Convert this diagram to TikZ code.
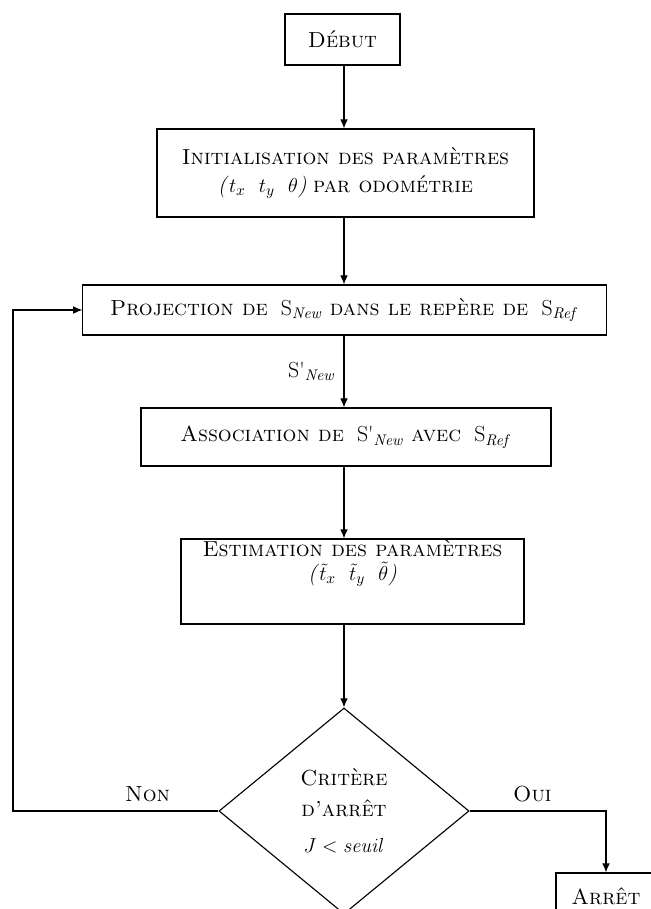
\documentclass[tikz,border=0pt]{standalone}
\usepackage{amsmath, amssymb}
\usepackage{tikz}
\usetikzlibrary{arrows.meta}
\usetikzlibrary{shapes.geometric}
\usetikzlibrary{calc}

\begin{document}
\begin{tikzpicture}[x=0.025cm, y=-0.025cm,
    box/.style={draw, line width=0.8pt, align=center, inner sep=0pt,
        font=\fontsize{15.5}{18}\selectfont},
    decision/.style={draw, diamond, line width=0.8pt, align=center, inner sep=0pt,
        minimum width=6.25cm, minimum height=5.15cm, font=\fontsize{15.5}{18}\selectfont},
    arr/.style={-{Latex[length=6.5pt, width=5.5pt]}, line width=0.8pt},
    lab/.style={font=\fontsize{15.5}{18}\selectfont}]
    \useasboundingbox (0,0) rectangle (651,909);
    \node[box, minimum width=2.875cm, minimum height=1.275cm] (debut) at (342.5,39.5) {\textsc{Début}};
    \node[box, minimum width=9.425cm, minimum height=2.2cm] (init) at (345.5,173)
        {\textsc{Initialisation des paramètres}\\[2.5pt]
         \textit{(}$t_x\ \ t_y\ \ \theta$\textit{)}\ \textsc{par odométrie}};
    \node[box, minimum width=13.075cm, minimum height=1.25cm] (proj) at (344.5,310)
        {\textsc{Projection de}\ \ S$_{\mathit{New}}$ \textsc{dans le repère de}\ \ S$_{\mathit{Ref}}$};
    \node[box, minimum width=10.25cm, minimum height=1.45cm] (assoc) at (346,437)
        {\textsc{Association de}\ \ S\textquotesingle$_{\mathit{New}}$ \textsc{avec}\ \ S$_{\mathit{Ref}}$};
    \node[box, minimum width=8.575cm, minimum height=2.125cm] (estim) at (352.5,581.5)
        {\textsc{Estimation des paramètres}\\[-1pt]
         \textit{(}$\tilde{t}_x\ \ \tilde{t}_y\ \ \tilde{\theta}$\textit{)}\\[12pt]\mbox{}};
    \node[decision] (crit) at (344,811)
        {\textsc{Critère}\\[4pt]\textsc{d'arrêt}\\[8pt]$J < \mathit{seuil}$};
    \node[box, minimum width=2.5cm, minimum height=1.15cm] (arret) at (606,896) {\textsc{Arrêt}};
    \coordinate (back) at (13,811);

    \draw[arr] (debut.south -| crit) -- (init.north -| crit);
    \draw[arr] (init.south -| crit) -- (proj.north -| crit);
    \draw[arr] (proj.south -| crit) -- node[lab, left=2pt, pos=0.5] {S\textquotesingle$_{\mathit{New}}$} (assoc.north -| crit);
    \draw[arr] (assoc.south -| crit) -- (estim.north -| crit);
    \draw[arr] (estim.south -| crit) -- (crit.north);
    \draw[arr] (crit.west) -- node[lab, above=3pt, pos=0.345] {\textsc{Non}} (back) |- (proj.west);
    \draw[arr] (crit.east) -- node[lab, above=3pt, pos=0.46] {\textsc{Oui}} (crit.east -| arret.north) -- (arret.north);
\end{tikzpicture}
\end{document}
